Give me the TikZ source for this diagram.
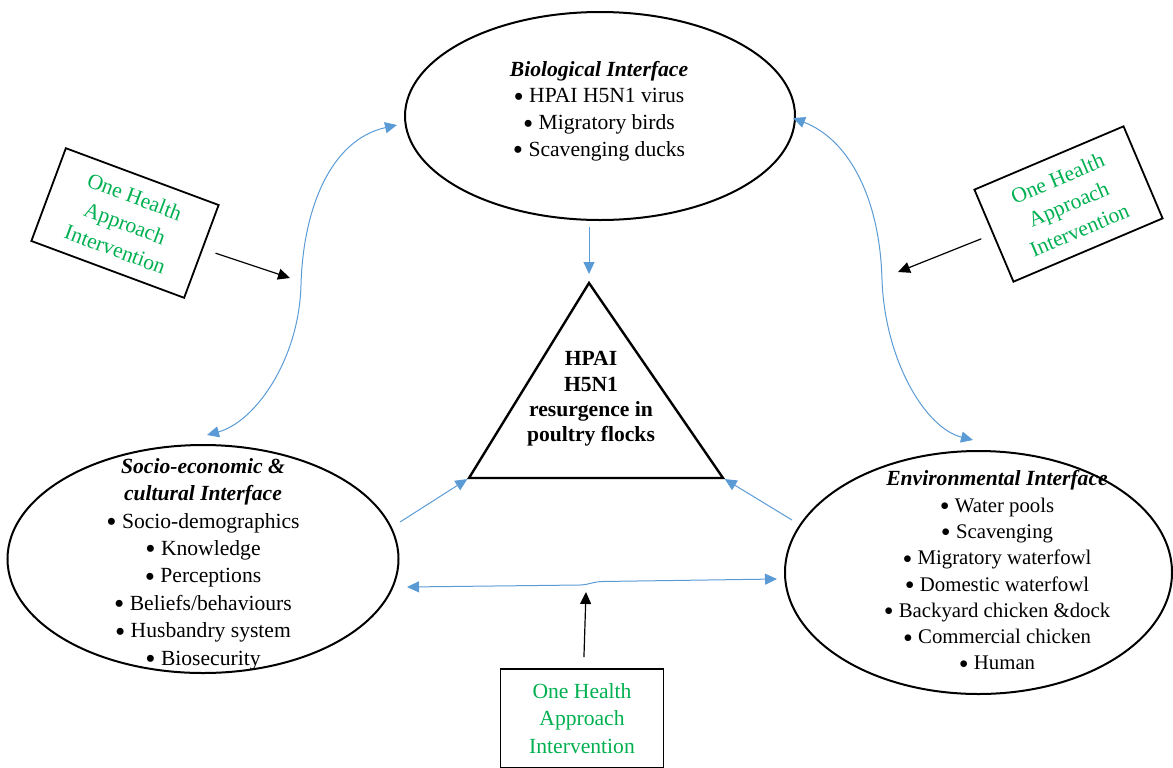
\documentclass[tikz,border=0pt]{standalone}
\usepackage{fontspec}
\setmainfont{Liberation Serif}
\usepackage{xcolor}
\usepackage{graphicx}
\usepackage{tikz}
\usetikzlibrary{shapes,arrows.meta,positioning,calc}

\definecolor{ohgreen}{RGB}{0,176,80}
\definecolor{linkblue}{RGB}{91,155,213}
\newcommand{\bitem}{\raisebox{-0.35ex}{\scalebox{1.35}{\textbullet}}\ }

\begin{document}
\begin{tikzpicture}[x=0.5pt, y=-0.5pt,
    iface/.style={draw, ellipse, line width=1pt, inner sep=0pt},
    itemtxt/.style={align=center, inner sep=0pt, font=\fontsize{10.8}{13.4}\selectfont},
    ohbox/.style={draw, line width=0.9pt, minimum width=81.5pt, minimum height=49.5pt,
        inner sep=0pt, align=center, text=ohgreen, font=\fontsize{10.8}{13.6}\selectfont},
    link/.style={linkblue, line width=0.5pt, -{Triangle[length=6pt,width=5.5pt]}},
    dlink/.style={link, {Triangle[length=6pt,width=5.5pt]}-{Triangle[length=6pt,width=5.5pt]}},
    push/.style={black, line width=0.6pt, -{Triangle[length=6pt,width=5.5pt]}}]
    \useasboundingbox (0,0) rectangle (1173,767);

    % 三个界面
    \node[iface, minimum width=195pt, minimum height=104pt] (bio) at (600,116) {};
    \node[itemtxt] (biotxt) at (599,111) {\textbf{\textit{Biological Interface}}\\
        \bitem HPAI H5N1 virus\\ \bitem Migratory birds\\ \bitem Scavenging ducks};

    \node[iface, minimum width=195.5pt, minimum height=114pt] (soc) at (203,559) {};
    \node[itemtxt, font=\fontsize{10.8}{13.7}\selectfont] (soctxt) at (203,564)
        {\textbf{\textit{Socio-economic \&}}\\ \textbf{\textit{cultural Interface}}\\
        \bitem Socio-demographics\\ \bitem Knowledge\\ \bitem Perceptions\\
        \bitem Beliefs/behaviours\\ \bitem Husbandry system\\ \bitem Biosecurity};

    \node[iface, minimum width=193.5pt, minimum height=121.5pt] (env) at (978.5,572.5) {};
    \node[itemtxt, font=\fontsize{10.4}{13.15}\selectfont] (envtxt) at (997,572)
        {\textbf{\textit{\fontsize{10.8}{13.15}\selectfont Environmental Interface}}\\ \bitem Water pools\\ \bitem Scavenging\\
        \bitem Migratory waterfowl\\ \bitem Domestic waterfowl\\
        \bitem Backyard chicken \&dock\\ \bitem Commercial chicken\\ \bitem Human};

    % 中间三角形
    \coordinate (apex) at (589,283);
    \coordinate (bl) at (469,478);
    \coordinate (br) at (723,478);
    \draw[line width=1.2pt] (apex) -- (bl) -- (br) -- cycle;
    \node[itemtxt, font=\bfseries\fontsize{10.8}{12.7}\selectfont] (hpai) at (591,399)
        {HPAI\\H5N1\\resurgence in\\poultry flocks};

    % One Health 方框
    \node[ohbox, rotate=-20.4, font=\fontsize{10.8}{14}\selectfont] (ohl) at (125,223)
        {One Health\\Approach\\Intervention};
    \node[ohbox, rotate=23, minimum width=81pt, minimum height=50pt, font=\fontsize{10.8}{14}\selectfont]
        (ohr) at (1068.5,204) {One Health\\Approach\\Intervention};
    \node[ohbox] (ohb) at (582,718.5) {One Health\\Approach\\Intervention};

    % 蓝色连线
    \draw[link, shorten <=3pt, shorten >=4.5pt] (bio.south -| apex) -- (apex);
    \coordinate (socout) at (400,522);
    \coordinate (envout) at (792,520);
    \draw[link, shorten >=1pt] (socout) -- (bl);
    \draw[link, shorten >=1pt] (envout) -- (br);

    \coordinate (socmid) at (407,587);
    \coordinate (envmid) at (777,579);
    \draw[dlink] (socmid) -- (580,585) .. controls (590,584.5) and (592,582) .. (602,581.5) -- (envmid);

    \coordinate (biol) at (397,125);
    \coordinate (soct) at (207,435);
    \draw[dlink] (biol) .. controls (330,140) and (303,210) .. (301,285)
        .. controls (299,360) and (255,422) .. (soct);

    \coordinate (bior) at (793,118);
    \coordinate (envt) at (973,440);
    \draw[dlink] (bior) .. controls (850,140) and (880,200) .. (882,280)
        .. controls (885,360) and (925,428) .. (envt);

    % 干预箭头
    \coordinate (ohltip) at (290,278);
    \coordinate (ohrtip) at (898,272);
    \coordinate (ohbtip) at (586,592);
    \draw[push, shorten <=6.5pt] (ohl) -- (ohltip);
    \draw[push, shorten <=6pt] (ohr) -- (ohrtip);
    \draw[push, shorten <=5.5pt] (ohb) -- (ohbtip);
\end{tikzpicture}
\end{document}
